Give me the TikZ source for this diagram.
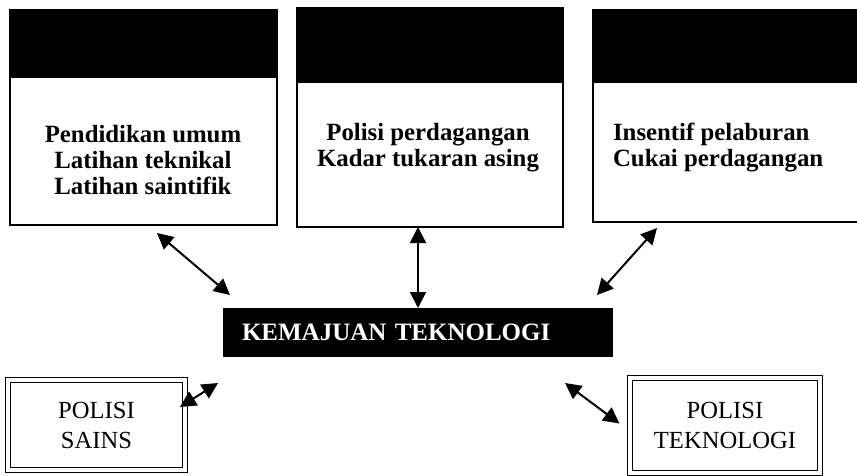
\documentclass[tikz,border=0pt]{standalone}
\usepackage{fontspec}
\setmainfont{Liberation Serif}
\usetikzlibrary{arrows.meta, positioning, calc}
\tikzset{
        x=0.5pt, y=-0.5pt,
        >={Triangle[length=8pt,width=8pt]}, % solid heads
        kepala/.style={draw, fill=black, line width=0.6pt, outer sep=0pt, anchor=north west},
        badan/.style={draw, line width=0.6pt, outer sep=0pt, minimum height=#1},
        tebal/.style={font=\bfseries\fontsize{12.4}{13}\selectfont},
        polisi/.style={draw, double, line width=0.5pt, double distance=1.6pt, align=center,
                font=\fontsize{12.3}{15}\selectfont},
        panah/.style={<->, line width=1pt}
        }
\begin{document}
\begin{tikzpicture}
        \useasboundingbox (0,0) rectangle (857,476);
        % three top boxes
        \node[kepala, minimum width=133.5pt, minimum height=33.5pt](h1) at (10,10){};
        \node[badan=74pt, minimum width=133.5pt, below=0pt of h1](b1){};
        \node[kepala, minimum width=133pt, minimum height=37pt](h2) at (297,8){};
        \node[badan=72.5pt, minimum width=133pt, below=0pt of h2](b2){};
        \node[kepala, minimum width=132.5pt, minimum height=36pt](h3) at (593,10){};
        \node[badan=70pt, minimum width=132.5pt, below=0pt of h3](b3){};
        \node[tebal, align=center](t1) at (143,160){Pendidikan umum\\Latihan teknikal\\Latihan saintifik};
        \node[tebal, align=center](t2) at (428,148){Polisi perdagangan\\Kadar tukaran asing};
        \node[tebal, align=left, anchor=west](t3) at (606,148){Insentif pelaburan\\Cukai perdagangan};
        % centre
        \node[fill=black, text=white, tebal, font=\bfseries\fontsize{12.5}{13}\selectfont,
              minimum width=195pt, minimum height=24.5pt, inner xsep=9.5pt, text width=176pt,
              align=left, outer sep=0pt](pusat) at (418,332.5){KEMAJUAN TEKNOLOGI};
        % bottom boxes
        \node[polisi, minimum width=88.5pt, minimum height=45pt](sains) at (96.5,425){POLISI\\SAINS};
        \node[polisi, minimum width=95pt, minimum height=47.5pt](tekno) at (725,425.5){POLISI\\TEKNOLOGI};
        % arrow ends
        \coordinate (a1) at (157,233);
        \coordinate (a2) at (230,295);
        \coordinate (a3) at (657,228);
        \coordinate (a4) at (597,295);
        \coordinate (a5) at (218,383);
        \coordinate (a6) at (565,383);
        \coordinate (a7) at (180,407);
        \draw[panah] (a1) -- (a2);
        \draw[panah] (pusat.north |- b2.south) -- (pusat.north);
        \draw[panah] (a3) -- (a4);
        \draw[panah] (a7) -- (a5);
        \draw[panah] (a6) -- ($(tekno.west)+(-10,-2)$);
\end{tikzpicture}
\end{document}
